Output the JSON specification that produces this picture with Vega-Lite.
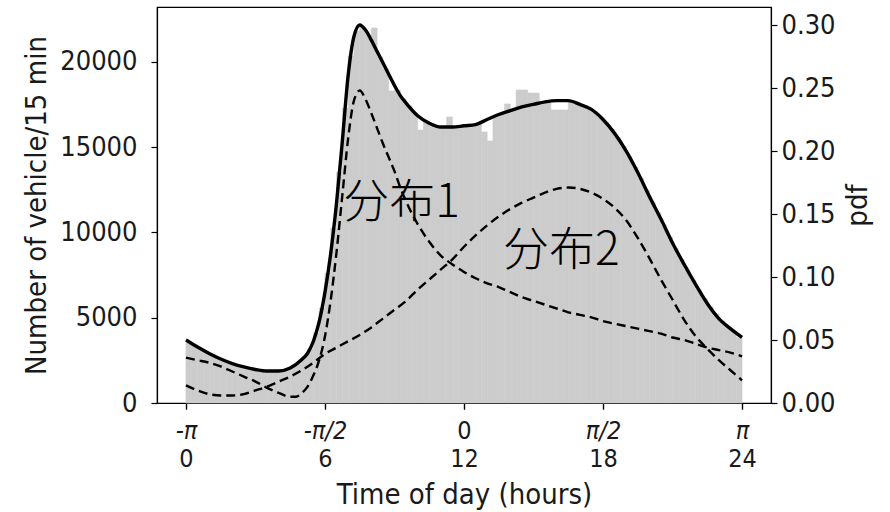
{
  "$schema": "https://vega.github.io/schema/vega-lite/v6.json",
  "width": 614,
  "height": 396,
  "autosize": {"type": "none"},
  "padding": {"left": 157, "top": 7, "right": 119, "bottom": 109},
  "background": "white",
  "datasets": {
    "bars": [
      {"h": 0, "h2": 0.25, "count": 3520}, {"h": 0.25, "h2": 0.5, "count": 3390}, {"h": 0.5, "h2": 0.75, "count": 3190}, {"h": 0.75, "h2": 1, "count": 3000},
      {"h": 1, "h2": 1.25, "count": 2820}, {"h": 1.25, "h2": 1.5, "count": 2660}, {"h": 1.5, "h2": 1.75, "count": 2510}, {"h": 1.75, "h2": 2, "count": 2380},
      {"h": 2, "h2": 2.25, "count": 2260}, {"h": 2.25, "h2": 2.5, "count": 2160}, {"h": 2.5, "h2": 2.75, "count": 2070}, {"h": 2.75, "h2": 3, "count": 2000},
      {"h": 3, "h2": 3.25, "count": 1940}, {"h": 3.25, "h2": 3.5, "count": 1900}, {"h": 3.5, "h2": 3.75, "count": 1880}, {"h": 3.75, "h2": 4, "count": 1880},
      {"h": 4, "h2": 4.25, "count": 1910}, {"h": 4.25, "h2": 4.5, "count": 1990}, {"h": 4.5, "h2": 4.75, "count": 2140}, {"h": 4.75, "h2": 5, "count": 2370},
      {"h": 5, "h2": 5.25, "count": 2700}, {"h": 5.25, "h2": 5.5, "count": 3170}, {"h": 5.5, "h2": 5.75, "count": 4100}, {"h": 5.75, "h2": 6, "count": 5570},
      {"h": 6, "h2": 6.25, "count": 7620}, {"h": 6.25, "h2": 6.5, "count": 10260}, {"h": 6.5, "h2": 6.75, "count": 13540}, {"h": 6.75, "h2": 7, "count": 17290},
      {"h": 7, "h2": 7.25, "count": 20340}, {"h": 7.25, "h2": 7.5, "count": 21810}, {"h": 7.5, "h2": 7.75, "count": 22040}, {"h": 7.75, "h2": 8, "count": 21570},
      {"h": 8, "h2": 8.25, "count": 21980}, {"h": 8.25, "h2": 8.5, "count": 20280}, {"h": 8.5, "h2": 8.75, "count": 19580}, {"h": 8.75, "h2": 9, "count": 18290},
      {"h": 9, "h2": 9.25, "count": 18350}, {"h": 9.25, "h2": 9.5, "count": 17820}, {"h": 9.5, "h2": 9.75, "count": 17410}, {"h": 9.75, "h2": 10, "count": 17000},
      {"h": 10, "h2": 10.25, "count": 16000}, {"h": 10.25, "h2": 10.5, "count": 16530}, {"h": 10.5, "h2": 10.75, "count": 16350}, {"h": 10.75, "h2": 11, "count": 16240},
      {"h": 11, "h2": 11.25, "count": 16180}, {"h": 11.25, "h2": 11.5, "count": 16770}, {"h": 11.5, "h2": 11.75, "count": 16180}, {"h": 11.75, "h2": 12, "count": 16210},
      {"h": 12, "h2": 12.25, "count": 16270}, {"h": 12.25, "h2": 12.5, "count": 16330}, {"h": 12.5, "h2": 12.75, "count": 16410}, {"h": 12.75, "h2": 13, "count": 15890},
      {"h": 13, "h2": 13.25, "count": 15360}, {"h": 13.25, "h2": 13.5, "count": 16820}, {"h": 13.5, "h2": 13.75, "count": 16940}, {"h": 13.75, "h2": 14, "count": 17530},
      {"h": 14, "h2": 14.25, "count": 17180}, {"h": 14.25, "h2": 14.5, "count": 18350}, {"h": 14.5, "h2": 14.75, "count": 18350}, {"h": 14.75, "h2": 15, "count": 18170},
      {"h": 15, "h2": 15.25, "count": 18170}, {"h": 15.25, "h2": 15.5, "count": 17640}, {"h": 15.5, "h2": 15.75, "count": 17700}, {"h": 15.75, "h2": 16, "count": 17180},
      {"h": 16, "h2": 16.25, "count": 17180}, {"h": 16.25, "h2": 16.5, "count": 17180}, {"h": 16.5, "h2": 16.75, "count": 17670}, {"h": 16.75, "h2": 17, "count": 17590},
      {"h": 17, "h2": 17.25, "count": 17440}, {"h": 17.25, "h2": 17.5, "count": 17260}, {"h": 17.5, "h2": 17.75, "count": 17060}, {"h": 17.75, "h2": 18, "count": 16770},
      {"h": 18, "h2": 18.25, "count": 16440}, {"h": 18.25, "h2": 18.5, "count": 16030}, {"h": 18.5, "h2": 18.75, "count": 15560}, {"h": 18.75, "h2": 19, "count": 15040},
      {"h": 19, "h2": 19.25, "count": 14450}, {"h": 19.25, "h2": 19.5, "count": 13830}, {"h": 19.5, "h2": 19.75, "count": 13190}, {"h": 19.75, "h2": 20, "count": 12490},
      {"h": 20, "h2": 20.25, "count": 11780}, {"h": 20.25, "h2": 20.5, "count": 11140}, {"h": 20.5, "h2": 20.75, "count": 10430}, {"h": 20.75, "h2": 21, "count": 9730},
      {"h": 21, "h2": 21.25, "count": 9060}, {"h": 21.25, "h2": 21.5, "count": 8410}, {"h": 21.5, "h2": 21.75, "count": 7800}, {"h": 21.75, "h2": 22, "count": 7210},
      {"h": 22, "h2": 22.25, "count": 6650}, {"h": 22.25, "h2": 22.5, "count": 6130}, {"h": 22.5, "h2": 22.75, "count": 5630}, {"h": 22.75, "h2": 23, "count": 5220},
      {"h": 23, "h2": 23.25, "count": 4810}, {"h": 23.25, "h2": 23.5, "count": 4510}, {"h": 23.5, "h2": 23.75, "count": 4190}, {"h": 23.75, "h2": 24, "count": 3850}
    ],
    "curves": [
      {"s": "total", "h": 0, "pdf": 0.050}, {"s": "total", "h": 0.5, "pdf": 0.0444}, {"s": "total", "h": 1, "pdf": 0.0393}, {"s": "total", "h": 1.5, "pdf": 0.0349},
      {"s": "total", "h": 2, "pdf": 0.0313}, {"s": "total", "h": 2.5, "pdf": 0.0286}, {"s": "total", "h": 3, "pdf": 0.0266}, {"s": "total", "h": 3.5, "pdf": 0.0254},
      {"s": "total", "h": 4, "pdf": 0.0254}, {"s": "total", "h": 4.5, "pdf": 0.0278}, {"s": "total", "h": 5, "pdf": 0.0345}, {"s": "total", "h": 5.25, "pdf": 0.0395},
      {"s": "total", "h": 5.5, "pdf": 0.049}, {"s": "total", "h": 5.75, "pdf": 0.0645}, {"s": "total", "h": 6, "pdf": 0.088}, {"s": "total", "h": 6.25, "pdf": 0.119},
      {"s": "total", "h": 6.5, "pdf": 0.159}, {"s": "total", "h": 6.75, "pdf": 0.208}, {"s": "total", "h": 7, "pdf": 0.260}, {"s": "total", "h": 7.25, "pdf": 0.291},
      {"s": "total", "h": 7.5, "pdf": 0.300}, {"s": "total", "h": 7.75, "pdf": 0.296}, {"s": "total", "h": 8, "pdf": 0.288}, {"s": "total", "h": 8.25, "pdf": 0.279},
      {"s": "total", "h": 8.5, "pdf": 0.270}, {"s": "total", "h": 8.75, "pdf": 0.261}, {"s": "total", "h": 9, "pdf": 0.252}, {"s": "total", "h": 9.25, "pdf": 0.244},
      {"s": "total", "h": 9.5, "pdf": 0.238}, {"s": "total", "h": 10, "pdf": 0.228}, {"s": "total", "h": 10.5, "pdf": 0.222}, {"s": "total", "h": 11, "pdf": 0.219},
      {"s": "total", "h": 11.5, "pdf": 0.219}, {"s": "total", "h": 12, "pdf": 0.220}, {"s": "total", "h": 12.5, "pdf": 0.221}, {"s": "total", "h": 13, "pdf": 0.225},
      {"s": "total", "h": 13.5, "pdf": 0.229}, {"s": "total", "h": 14, "pdf": 0.232}, {"s": "total", "h": 14.5, "pdf": 0.235}, {"s": "total", "h": 15, "pdf": 0.237},
      {"s": "total", "h": 15.5, "pdf": 0.239}, {"s": "total", "h": 16, "pdf": 0.240}, {"s": "total", "h": 16.5, "pdf": 0.240}, {"s": "total", "h": 17, "pdf": 0.237},
      {"s": "total", "h": 17.5, "pdf": 0.233}, {"s": "total", "h": 18, "pdf": 0.225}, {"s": "total", "h": 18.5, "pdf": 0.214}, {"s": "total", "h": 19, "pdf": 0.200},
      {"s": "total", "h": 19.5, "pdf": 0.183}, {"s": "total", "h": 20, "pdf": 0.164}, {"s": "total", "h": 20.5, "pdf": 0.146}, {"s": "total", "h": 21, "pdf": 0.127},
      {"s": "total", "h": 21.5, "pdf": 0.110}, {"s": "total", "h": 22, "pdf": 0.094}, {"s": "total", "h": 22.5, "pdf": 0.079}, {"s": "total", "h": 23, "pdf": 0.067},
      {"s": "total", "h": 23.5, "pdf": 0.059}, {"s": "total", "h": 24, "pdf": 0.052},

      {"s": "d1", "h": 0, "pdf": 0.036}, {"s": "d1", "h": 0.5, "pdf": 0.034}, {"s": "d1", "h": 1, "pdf": 0.032}, {"s": "d1", "h": 1.5, "pdf": 0.029},
      {"s": "d1", "h": 2, "pdf": 0.025}, {"s": "d1", "h": 2.5, "pdf": 0.021}, {"s": "d1", "h": 3, "pdf": 0.017}, {"s": "d1", "h": 3.5, "pdf": 0.012},
      {"s": "d1", "h": 4, "pdf": 0.008}, {"s": "d1", "h": 4.5, "pdf": 0.005}, {"s": "d1", "h": 4.75, "pdf": 0.005}, {"s": "d1", "h": 5, "pdf": 0.008},
      {"s": "d1", "h": 5.25, "pdf": 0.013}, {"s": "d1", "h": 5.5, "pdf": 0.022}, {"s": "d1", "h": 5.75, "pdf": 0.034}, {"s": "d1", "h": 6, "pdf": 0.053},
      {"s": "d1", "h": 6.25, "pdf": 0.082}, {"s": "d1", "h": 6.5, "pdf": 0.120}, {"s": "d1", "h": 6.75, "pdf": 0.165}, {"s": "d1", "h": 7, "pdf": 0.210},
      {"s": "d1", "h": 7.25, "pdf": 0.240}, {"s": "d1", "h": 7.5, "pdf": 0.248}, {"s": "d1", "h": 7.75, "pdf": 0.241}, {"s": "d1", "h": 8, "pdf": 0.230},
      {"s": "d1", "h": 8.25, "pdf": 0.218}, {"s": "d1", "h": 8.5, "pdf": 0.206}, {"s": "d1", "h": 8.75, "pdf": 0.195}, {"s": "d1", "h": 9, "pdf": 0.184},
      {"s": "d1", "h": 9.25, "pdf": 0.171}, {"s": "d1", "h": 9.5, "pdf": 0.160}, {"s": "d1", "h": 10, "pdf": 0.142}, {"s": "d1", "h": 10.5, "pdf": 0.128},
      {"s": "d1", "h": 11, "pdf": 0.117}, {"s": "d1", "h": 11.5, "pdf": 0.110}, {"s": "d1", "h": 12, "pdf": 0.104}, {"s": "d1", "h": 12.5, "pdf": 0.099},
      {"s": "d1", "h": 13, "pdf": 0.095}, {"s": "d1", "h": 13.5, "pdf": 0.092}, {"s": "d1", "h": 14, "pdf": 0.088}, {"s": "d1", "h": 14.5, "pdf": 0.084},
      {"s": "d1", "h": 15, "pdf": 0.081}, {"s": "d1", "h": 15.5, "pdf": 0.078}, {"s": "d1", "h": 16, "pdf": 0.075}, {"s": "d1", "h": 16.5, "pdf": 0.072},
      {"s": "d1", "h": 17, "pdf": 0.070}, {"s": "d1", "h": 17.5, "pdf": 0.068}, {"s": "d1", "h": 18, "pdf": 0.065}, {"s": "d1", "h": 18.5, "pdf": 0.063},
      {"s": "d1", "h": 19, "pdf": 0.061}, {"s": "d1", "h": 19.5, "pdf": 0.059}, {"s": "d1", "h": 20, "pdf": 0.057}, {"s": "d1", "h": 20.5, "pdf": 0.055},
      {"s": "d1", "h": 21, "pdf": 0.052}, {"s": "d1", "h": 21.5, "pdf": 0.050}, {"s": "d1", "h": 22, "pdf": 0.047}, {"s": "d1", "h": 22.5, "pdf": 0.044},
      {"s": "d1", "h": 23, "pdf": 0.042}, {"s": "d1", "h": 23.5, "pdf": 0.040}, {"s": "d1", "h": 24, "pdf": 0.037},

      {"s": "d2", "h": 0, "pdf": 0.014}, {"s": "d2", "h": 0.5, "pdf": 0.010}, {"s": "d2", "h": 1, "pdf": 0.007}, {"s": "d2", "h": 1.5, "pdf": 0.006},
      {"s": "d2", "h": 2, "pdf": 0.006}, {"s": "d2", "h": 2.5, "pdf": 0.007}, {"s": "d2", "h": 3, "pdf": 0.010}, {"s": "d2", "h": 3.5, "pdf": 0.013},
      {"s": "d2", "h": 4, "pdf": 0.017}, {"s": "d2", "h": 4.5, "pdf": 0.021}, {"s": "d2", "h": 5, "pdf": 0.026}, {"s": "d2", "h": 5.5, "pdf": 0.032},
      {"s": "d2", "h": 6, "pdf": 0.039}, {"s": "d2", "h": 6.5, "pdf": 0.044}, {"s": "d2", "h": 7, "pdf": 0.049}, {"s": "d2", "h": 7.5, "pdf": 0.054},
      {"s": "d2", "h": 8, "pdf": 0.060}, {"s": "d2", "h": 8.5, "pdf": 0.067}, {"s": "d2", "h": 9, "pdf": 0.074}, {"s": "d2", "h": 9.5, "pdf": 0.081},
      {"s": "d2", "h": 10, "pdf": 0.090}, {"s": "d2", "h": 10.5, "pdf": 0.098}, {"s": "d2", "h": 11, "pdf": 0.106}, {"s": "d2", "h": 11.5, "pdf": 0.114},
      {"s": "d2", "h": 12, "pdf": 0.124}, {"s": "d2", "h": 12.5, "pdf": 0.133}, {"s": "d2", "h": 13, "pdf": 0.141}, {"s": "d2", "h": 13.5, "pdf": 0.148},
      {"s": "d2", "h": 14, "pdf": 0.154}, {"s": "d2", "h": 14.5, "pdf": 0.159}, {"s": "d2", "h": 15, "pdf": 0.163}, {"s": "d2", "h": 15.5, "pdf": 0.167},
      {"s": "d2", "h": 16, "pdf": 0.170}, {"s": "d2", "h": 16.5, "pdf": 0.171}, {"s": "d2", "h": 17, "pdf": 0.170}, {"s": "d2", "h": 17.5, "pdf": 0.167},
      {"s": "d2", "h": 18, "pdf": 0.162}, {"s": "d2", "h": 18.5, "pdf": 0.155}, {"s": "d2", "h": 19, "pdf": 0.145}, {"s": "d2", "h": 19.5, "pdf": 0.131},
      {"s": "d2", "h": 20, "pdf": 0.115}, {"s": "d2", "h": 20.5, "pdf": 0.098}, {"s": "d2", "h": 21, "pdf": 0.082}, {"s": "d2", "h": 21.5, "pdf": 0.066},
      {"s": "d2", "h": 22, "pdf": 0.053}, {"s": "d2", "h": 22.5, "pdf": 0.043}, {"s": "d2", "h": 23, "pdf": 0.034}, {"s": "d2", "h": 23.5, "pdf": 0.026},
      {"s": "d2", "h": 24, "pdf": 0.018}
    ],
    "notes": [
      {"label": "分布1", "h": 9.3, "pdf": 0.159},
      {"label": "分布2", "h": 16.2, "pdf": 0.121}
    ]
  },
  "layer": [
    {
      "data": {"name": "bars"},
      "mark": {"type": "rect", "color": "#cccccc", "stroke": "#cccccc", "strokeWidth": 0.6},
      "encoding": {
        "x": {
          "field": "h",
          "type": "quantitative",
          "scale": {"domain": [-1.25, 25.25], "nice": false, "zero": false},
          "axis": {
            "orient": "bottom",
            "values": [0, 6, 12, 18, 24],
            "format": "d",
            "labelFontSize": 25,
            "labelPadding": 37,
            "title": "Time of day (hours)",
            "titlePadding": 9
          }
        },
        "x2": {"field": "h2"},
        "y": {
          "field": "count",
          "type": "quantitative",
          "scale": {"domain": [0, 23212], "nice": false},
          "axis": {
            "orient": "left",
            "values": [0, 5000, 10000, 15000, 20000],
            "format": "d",
            "title": "Number of vehicle/15 min",
            "titleFontSize": 29,
            "titlePadding": 8,
            "labelPadding": 14
          }
        },
        "y2": {"datum": 0}
      }
    },
    {
      "data": {"name": "curves"},
      "encoding": {
        "x": {
          "field": "h",
          "type": "quantitative",
          "axis": {
            "orient": "bottom",
            "values": [0, 6, 12, 18, 24],
            "labelExpr": "datum.value == 0 ? '-π' : datum.value == 6 ? '-π/2' : datum.value == 12 ? '0' : datum.value == 18 ? 'π/2' : 'π'",
            "labelFontStyle": {"condition": {"test": "datum.value == 12", "value": "normal"}, "value": "italic"},
            "labelFontSize": 25,
            "labelPadding": 9,
            "title": null
          }
        },
        "y": {
          "field": "pdf",
          "type": "quantitative",
          "scale": {"domain": [0, 0.3143], "nice": false},
          "axis": {
            "orient": "right",
            "values": [0, 0.05, 0.1, 0.15, 0.2, 0.25, 0.3],
            "format": ".2f",
            "title": "pdf",
            "titleAngle": 270,
            "titleBaseline": "top",
            "titlePadding": 8,
            "labelPadding": 4
          }
        }
      },
      "layer": [
        {
          "transform": [{"filter": "datum.s != 'total'"}],
          "mark": {"type": "line", "interpolate": "monotone", "color": "black", "strokeWidth": 2.4, "strokeDash": [9, 5]},
          "encoding": {"detail": {"field": "s"}}
        },
        {
          "transform": [{"filter": "datum.s == 'total'"}],
          "mark": {"type": "line", "interpolate": "monotone", "color": "black", "strokeWidth": 3.4}
        },
        {
          "data": {"name": "notes"},
          "mark": {"type": "text", "font": "Noto Sans CJK SC", "fontSize": 46, "fontWeight": 300, "align": "center", "baseline": "middle", "color": "black"},
          "encoding": {"text": {"field": "label"}}
        }
      ]
    }
  ],
  "resolve": {"scale": {"y": "independent"}, "axis": {"x": "independent"}},
  "config": {
    "view": {"stroke": "black", "strokeWidth": 1.2},
    "axis": {
      "labelFont": "DejaVu Sans Condensed",
      "titleFont": "DejaVu Sans Condensed",
      "labelFontSize": 27,
      "titleFontSize": 29,
      "titleFontWeight": "normal",
      "labelColor": "#1a1a1a",
      "titleColor": "#1a1a1a",
      "grid": false,
      "domainColor": "black",
      "domainWidth": 1.2,
      "tickColor": "black",
      "tickSize": 6,
      "tickWidth": 1.2,
      "labelOverlap": false,
      "labelFlush": false
    }
  }
}
